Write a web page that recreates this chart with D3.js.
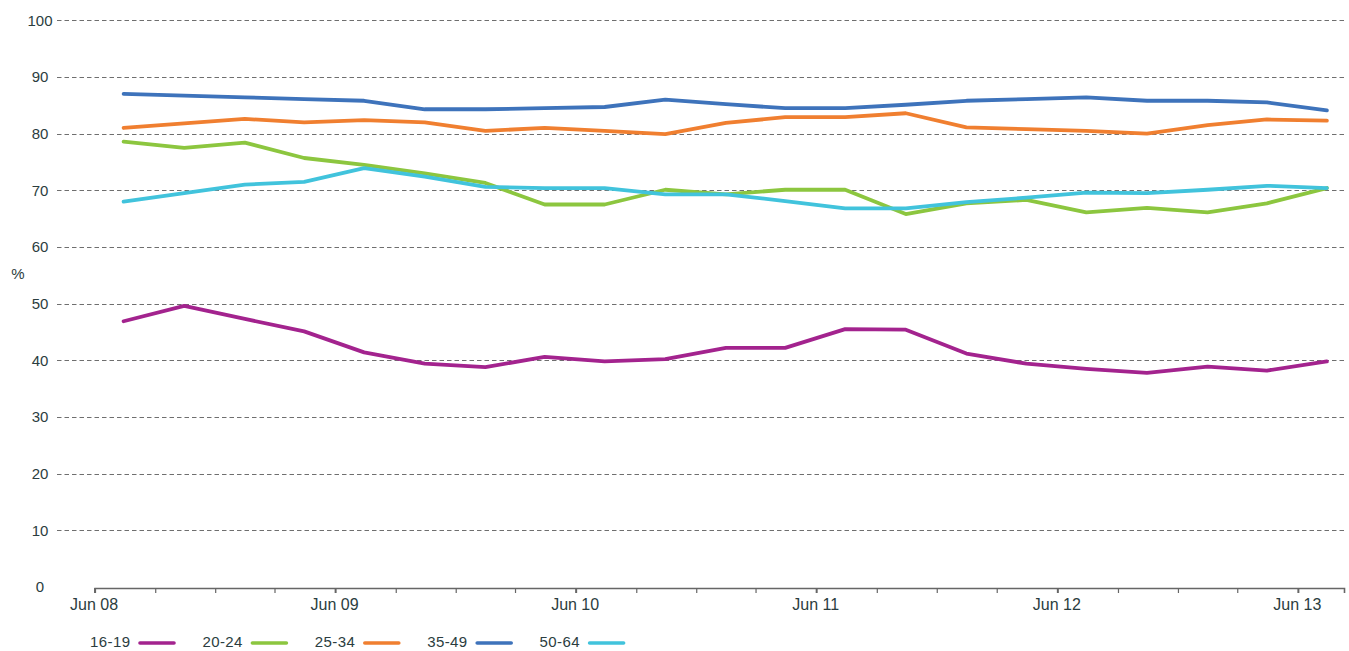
<!DOCTYPE html>
<html>
<head>
<meta charset="utf-8">
<script src="https://cdn.jsdelivr.net/npm/d3@7"></script>
<style>
  html, body { margin: 0; padding: 0; background: #fff; }
  svg { display: block; }
  text { font-family: "Liberation Sans", Arial, Helvetica, sans-serif; fill: #2b3d40; }
</style>
</head>
<body>
<svg id="chart" width="1349" height="651"></svg>
<script>
// ---- data ----
const dates = [
  "2008-07-15","2008-10-15","2009-01-15","2009-04-15",
  "2009-07-15","2009-10-15","2010-01-15","2010-04-15",
  "2010-07-15","2010-10-15","2011-01-15","2011-04-15",
  "2011-07-15","2011-10-15","2012-01-15","2012-04-15",
  "2012-07-15","2012-10-15","2013-01-15","2013-04-15",
  "2013-07-15"
];
const seriesNames = ["16-19", "20-24", "25-34", "35-49", "50-64"];
const s16_19 = [46.9, 49.6, 47.3, 45.1, 41.4, 39.4, 38.8, 40.6, 39.8, 40.2, 42.2, 42.2, 45.5, 45.4, 41.2, 39.4, 38.5, 37.8, 38.9, 38.2, 39.8];
const s20_24 = [78.6, 77.5, 78.4, 75.7, 74.5, 73.0, 71.3, 67.5, 67.5, 70.1, 69.3, 70.1, 70.1, 65.8, 67.7, 68.3, 66.1, 66.9, 66.1, 67.7, 70.4];
const s25_34 = [81.0, 81.8, 82.6, 82.0, 82.4, 82.0, 80.5, 81.0, 80.5, 79.9, 81.9, 82.9, 82.9, 83.6, 81.1, 80.8, 80.5, 80.0, 81.5, 82.5, 82.3];
const s35_49 = [87.0, 86.7, 86.4, 86.1, 85.8, 84.3, 84.3, 84.5, 84.7, 86.0, 85.2, 84.5, 84.5, 85.1, 85.8, 86.1, 86.4, 85.8, 85.8, 85.5, 84.1];
const s50_64 = [68.0, 69.5, 71.0, 71.5, 73.9, 72.4, 70.6, 70.4, 70.4, 69.3, 69.3, 68.1, 66.8, 66.8, 67.9, 68.7, 69.6, 69.5, 70.1, 70.8, 70.4];
const yTicks = [0, 10, 20, 30, 40, 50, 60, 70, 80, 90, 100];
const yLabel = "%";

// ---- styling ----
const colors = ["#a3238e", "#8cc63f", "#f07f30", "#3e73bb", "#41c3dc"];
const allSeries = [s16_19, s20_24, s25_34, s35_49, s50_64];

const parse = d3.timeParse("%Y-%m-%d");
const svg = d3.select("#chart");

const x = d3.scaleTime()
  .domain([parse("2008-06-01"), parse("2013-08-10")])
  .range([94.6, 1344]);
const y = d3.scaleLinear().domain([0, 100]).range([587, 20.3]);

// gridlines
svg.append("g")
  .selectAll("line")
  .data(yTicks.filter(d => d > 0))
  .join("line")
  .attr("x1", 57).attr("x2", 1345)
  .attr("y1", d => Math.round(y(d)) + 0.5).attr("y2", d => Math.round(y(d)) + 0.5)
  .attr("stroke", "#6f6f6f")
  .attr("stroke-width", 1)
  .attr("stroke-dasharray", "4.5,3");

// y labels (centered)
svg.append("g")
  .selectAll("text")
  .data(yTicks)
  .join("text")
  .attr("x", 40)
  .attr("y", d => y(d))
  .attr("dy", "0.35em")
  .attr("text-anchor", "middle")
  .style("font-size", "15px")
  .text(d => d);

svg.append("text")
  .attr("x", 18).attr("y", 274).attr("dy", "0.35em")
  .attr("text-anchor", "middle")
  .style("font-size", "15px")
  .text(yLabel);

// x axis
const tickDates = d3.timeMonth.range(parse("2008-06-01"), parse("2013-08-11"), 3);
const xAxis = d3.axisBottom(x)
  .tickValues(tickDates)
  .tickSize(5)
  .tickFormat(d => d.getMonth() === 5 ? d3.timeFormat("%b %y")(d) : "");
const gx = svg.append("g")
  .attr("transform", "translate(0,588)")
  .call(xAxis);
gx.select(".domain").attr("stroke", "#666").attr("stroke-width", 1.6);
gx.selectAll(".tick line")
  .attr("stroke", "#666")
  .attr("stroke-width", d => d.getMonth() === 5 ? 2 : 1.2);
gx.selectAll(".tick text")
  .attr("y", 0)
  .attr("dy", 0)
  .attr("transform", "translate(-1,22)")
  .style("font-size", "16px")
  .style("font-family", "'Liberation Sans', Arial, Helvetica, sans-serif")
  .attr("fill", "#2b3d40");

// lines
const line = d3.line()
  .x((d, i) => x(parse(dates[i])))
  .y(d => y(d));

svg.append("g")
  .selectAll("path")
  .data(allSeries)
  .join("path")
  .attr("d", d => line(d))
  .attr("fill", "none")
  .attr("stroke", (d, i) => colors[i])
  .attr("stroke-width", 3.8)
  .attr("stroke-linejoin", "round")
  .attr("stroke-linecap", "round");

// legend
const legend = svg.append("g");
const items = legend.selectAll("g")
  .data(seriesNames)
  .join("g")
  .attr("transform", (d, i) => `translate(${90 + i * 112.4},642)`);
items.append("text")
  .attr("x", 0).attr("y", 0).attr("dy", "0.35em")
  .attr("textLength", 40)
  .style("font-size", "15px")
  .text(d => d);
items.append("line")
  .attr("x1", 50).attr("x2", 84)
  .attr("y1", 1).attr("y2", 1)
  .attr("stroke", (d, i) => colors[i])
  .attr("stroke-width", 3.6)
  .attr("stroke-linecap", "round");
</script>
</body>
</html>
